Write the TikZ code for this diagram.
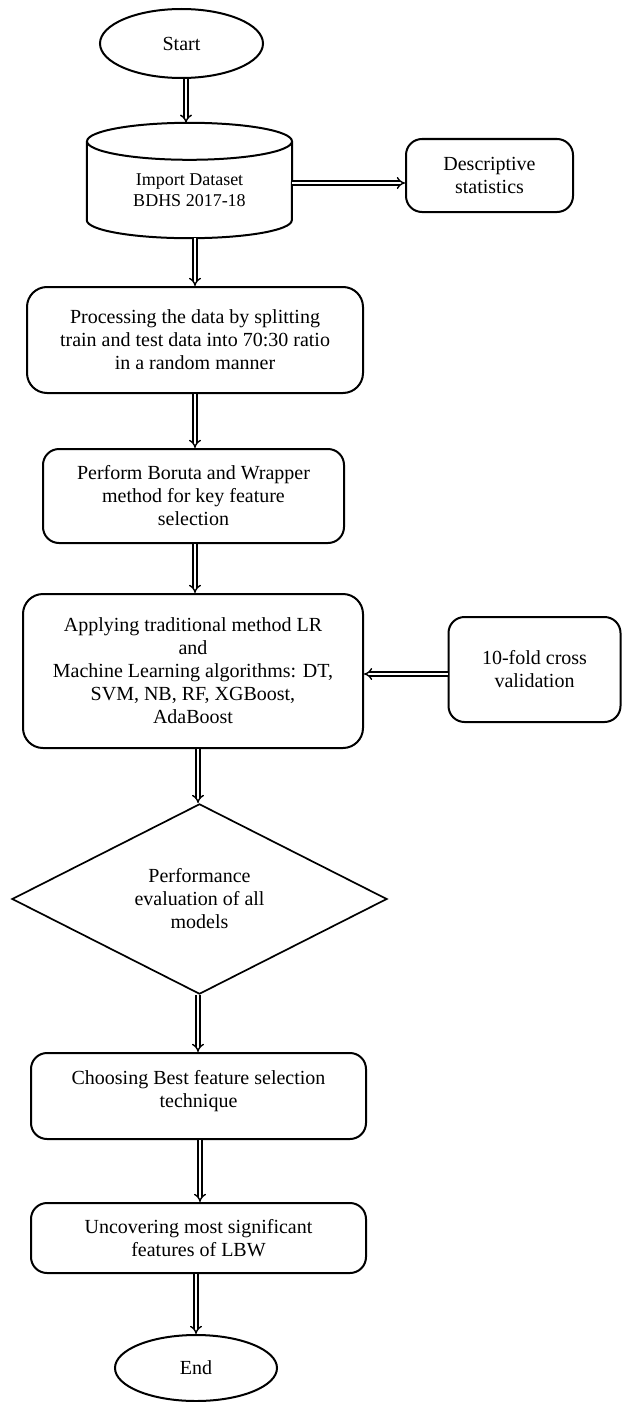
\documentclass[tikz,border=0pt]{standalone}
\usepackage{fontspec}
\setmainfont{Liberation Serif}
\usetikzlibrary{shapes.geometric,arrows.meta,calc}
\begin{document}
\begin{tikzpicture}[x=1pt,y=-1pt,
  every node/.style={font=\fontsize{20}{23}\selectfont, align=center, inner sep=0pt},
  rbox/.style={draw, line width=2pt, rounded corners=16pt, rectangle},
  oval/.style={draw, line width=2pt, ellipse},
  decision/.style={draw, line width=1.7pt, diamond},
  dbl/.style={draw, line width=1.4pt, double distance=2.6pt, -{Implies}},
  ]
\useasboundingbox (0,0) rectangle (622,1402);

\node[oval, minimum width=163pt, minimum height=69pt] (start) at (181.5,43.5) {Start};

% cylinder (drawn by hand around its text)
\node[minimum width=205pt, minimum height=115pt] (db) at (189.5,180.5) {};
\node[font=\fontsize{18}{20.5}\selectfont] (dbtext) at (189.5,190) {Import Dataset\\BDHS 2017-18};
\draw[line width=2pt] ([yshift=-18.5pt]db.north west) -- ([yshift=18pt]db.south west)
  arc[start angle=180, end angle=360, x radius=102.5pt, y radius=18pt]
  -- ([yshift=-18.5pt]db.north east);
\draw[line width=2pt] ([yshift=-18.5pt]db.north) ellipse [x radius=102.5pt, y radius=18.5pt];

\node[rbox, minimum width=167pt, minimum height=73pt] (desc) at (489.5,175.5) {Descriptive\\statistics};

\node[rbox, minimum width=336pt, minimum height=106pt, rounded corners=20pt] (proc) at (195,340) {Processing the data by splitting\\train and test data into 70:30 ratio\\in a random manner};

\node[rbox, minimum width=301pt, minimum height=94pt] (bor) at (193.5,496) {Perform Boruta and Wrapper\\method for key feature\\selection};

\node[rbox, minimum width=340pt, minimum height=154pt, rounded corners=20pt] (app) at (193,671) {Applying traditional method LR\\and\\Machine Learning algorithms: DT,\\SVM, NB, RF, XGBoost,\\AdaBoost};

\node[rbox, minimum width=172pt, minimum height=105pt] (cv) at (534.5,669.5) {10-fold cross\\validation};

\node[decision, minimum width=375pt, minimum height=168pt] (dia) at (199.5,899) {Performance\\evaluation of all\\models};

\node[rbox, minimum width=335pt, minimum height=86pt] (cho) at (198.5,1096) {Choosing Best feature selection\\technique\\[-8pt]\mbox{}};

\node[rbox, minimum width=335pt, minimum height=70pt] (unc) at (198.5,1238) {Uncovering most significant\\features of LBW};

\node[oval, minimum width=162pt, minimum height=66pt] (end) at (196,1368) {End};

% connectors
\draw[dbl] ([xshift=4.5pt]start.south) -- ([xshift=4.5pt]start.south |- db.north);
\draw[dbl] ([yshift=-2.5pt]db.east) -- ([yshift=-2.5pt]db.east -| desc.west);
\draw[dbl] ([xshift=5.5pt]db.south) -- ([xshift=5.5pt]db.south |- proc.north);
\draw[dbl] (proc.south) -- (proc.south |- bor.north);
\draw[dbl] ([xshift=1.5pt]bor.south) -- ([xshift=1.5pt]bor.south |- app.north);
\draw[dbl] ([yshift=-4.5pt]cv.west) -- ([yshift=-4.5pt]cv.west -| app.east);
\draw[dbl] ([xshift=-1.5pt]dia.north |- app.south) -- ([xshift=-1.5pt]dia.north);
\draw[dbl] ([xshift=-1.5pt]dia.south) -- ([xshift=-1.5pt]dia.south |- cho.north);
\draw[dbl] ([xshift=1.5pt]cho.south) -- ([xshift=1.5pt]cho.south |- unc.north);
\draw[dbl] (end.north |- unc.south) -- (end.north);
\end{tikzpicture}
\end{document}
